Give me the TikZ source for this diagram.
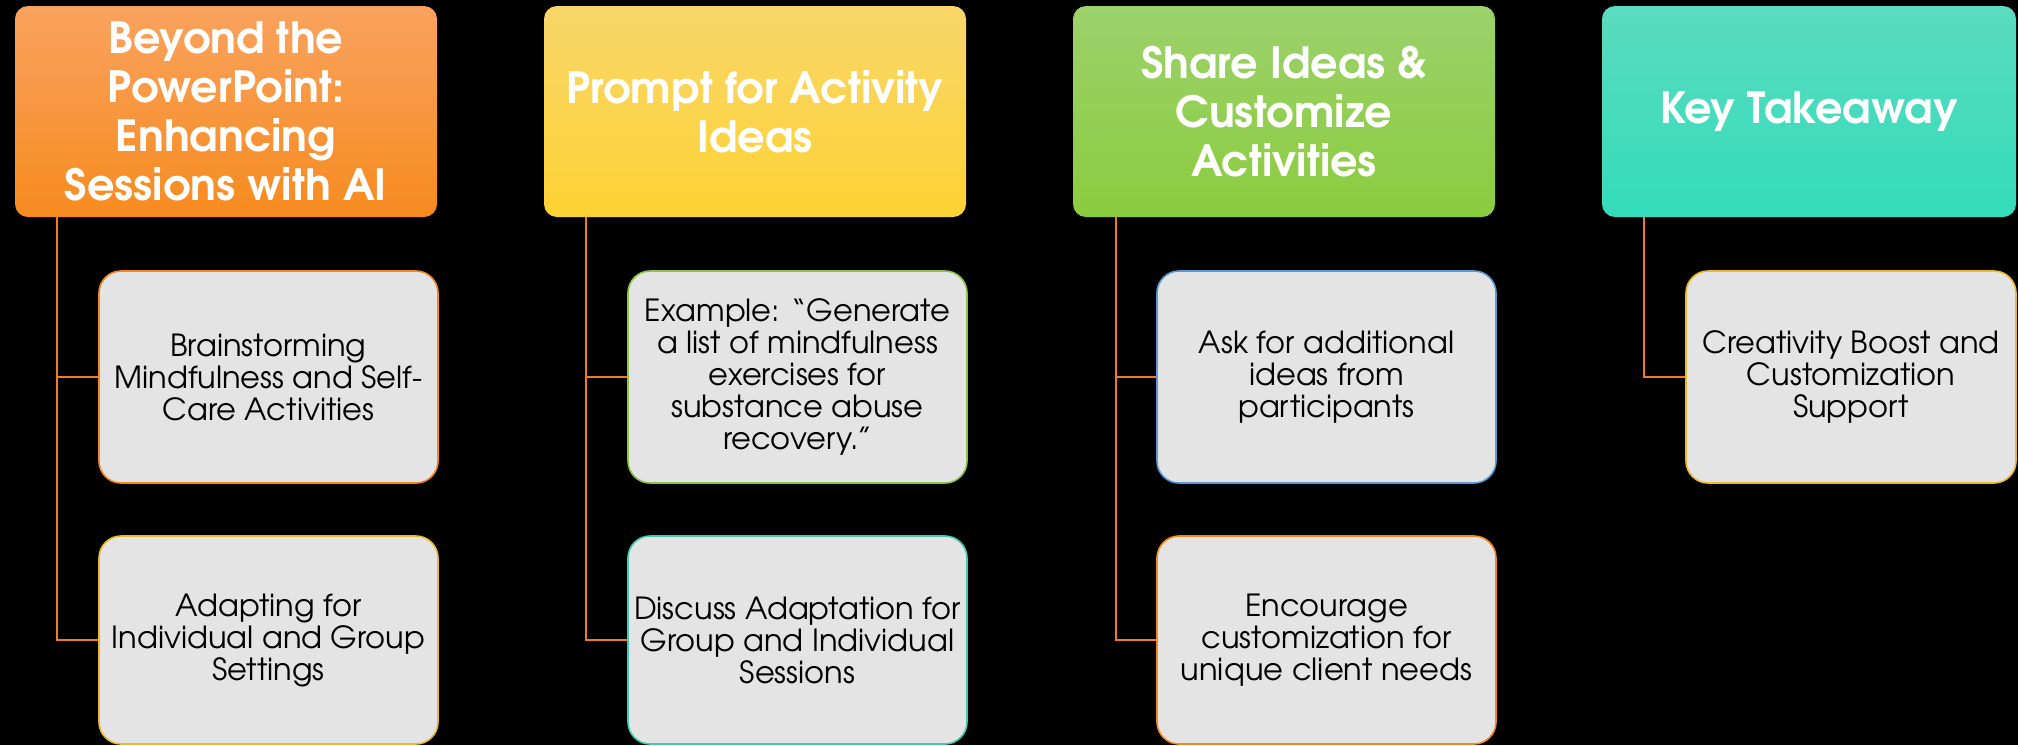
\documentclass[tikz,border=0pt]{standalone}
\usepackage{fontspec}
\setmainfont{TeX Gyre Adventor}
\usetikzlibrary{positioning}
\definecolor{conn}{HTML}{F07E1E}
\definecolor{orT}{HTML}{F9A25E}\definecolor{orB}{HTML}{F78B1F}
\definecolor{yeT}{HTML}{F8D66A}\definecolor{yeB}{HTML}{FDD233}
\definecolor{grT}{HTML}{9CD16C}\definecolor{grB}{HTML}{8BCC3E}
\definecolor{teT}{HTML}{5BDBBF}\definecolor{teB}{HTML}{33DCBB}
\definecolor{cfill}{HTML}{E4E4E4}
\definecolor{bOr}{HTML}{F7861E}
\definecolor{bGo}{HTML}{EDB92A}
\definecolor{bGr}{HTML}{8DC24A}
\definecolor{bTe}{HTML}{40CCB0}
\definecolor{bBl}{HTML}{5B9BD5}
\tikzset{
  head/.style={rounded corners=13pt, minimum width=422pt, minimum height=211pt,
    inner sep=0pt, text=white, align=center, font=\fontsize{43}{49}\selectfont\bfseries},
  child/.style={rounded corners=22pt, minimum width=339pt, minimum height=212pt,
    inner sep=0pt, fill=cfill, line width=1.6pt, text=black, align=center,
    font=\fontsize{30.5}{32}\selectfont},
  conn/.style={draw=conn, line width=2pt}
}
\begin{document}
\begin{tikzpicture}[x=1pt,y=-1pt]
\fill[black] (0,0) rectangle (2018,745);
\useasboundingbox (0,0) rectangle (2018,745);
% headers
\node[head, top color=orT, bottom color=orB] (h1) at (226,111.5) {Beyond the\\PowerPoint:\\Enhancing\\Sessions with AI};
\node[head, top color=yeT, bottom color=yeB] (h2) at (755,111.5) {Prompt for Activity\\Ideas};
\node[head, top color=grT, bottom color=grB] (h3) at (1284,111.5) {Share Ideas \&\\Customize\\Activities};
\node[head, top color=teT, bottom color=teB, minimum width=414pt] (h4) at (1809,111.5) {Key Takeaway};
% children
\node[child, draw=bOr] (c11) at (268.5,377) {Brainstorming\\Mindfulness and Self-\\Care Activities};
\node[child, draw=bGo, minimum height=208pt] (c12) at (268.5,640) {Adapting for\\Individual and Group\\Settings};
\node[child, draw=bGr] (c21) at (797.5,377) {Example: “Generate\\a list of mindfulness\\exercises for\\substance abuse\\recovery.”};
\node[child, draw=bTe, minimum height=208pt] (c22) at (797.5,640) {Discuss Adaptation for\\Group and Individual\\Sessions};
\node[child, draw=bBl] (c31) at (1326.5,377) {Ask for additional\\ideas from\\participants};
\node[child, draw=bOr, minimum height=208pt] (c32) at (1326.5,640) {Encourage\\customization for\\unique client needs};
\node[child, draw=bGo, minimum width=330pt] (c41) at (1851,377) {Creativity Boost and\\Customization\\Support};
% connectors
\coordinate (t1) at (57,0); \coordinate (t2) at (586,0); \coordinate (t3) at (1116,0); \coordinate (t4) at (1644,0);
\draw[conn] (h1.south -| t1) |- (c11.west);
\draw[conn] (h1.south -| t1) |- (c12.west);
\draw[conn] (h2.south -| t2) |- (c21.west);
\draw[conn] (h2.south -| t2) |- (c22.west);
\draw[conn] (h3.south -| t3) |- (c31.west);
\draw[conn] (h3.south -| t3) |- (c32.west);
\draw[conn] (h4.south -| t4) |- (c41.west);
\end{tikzpicture}
\end{document}
